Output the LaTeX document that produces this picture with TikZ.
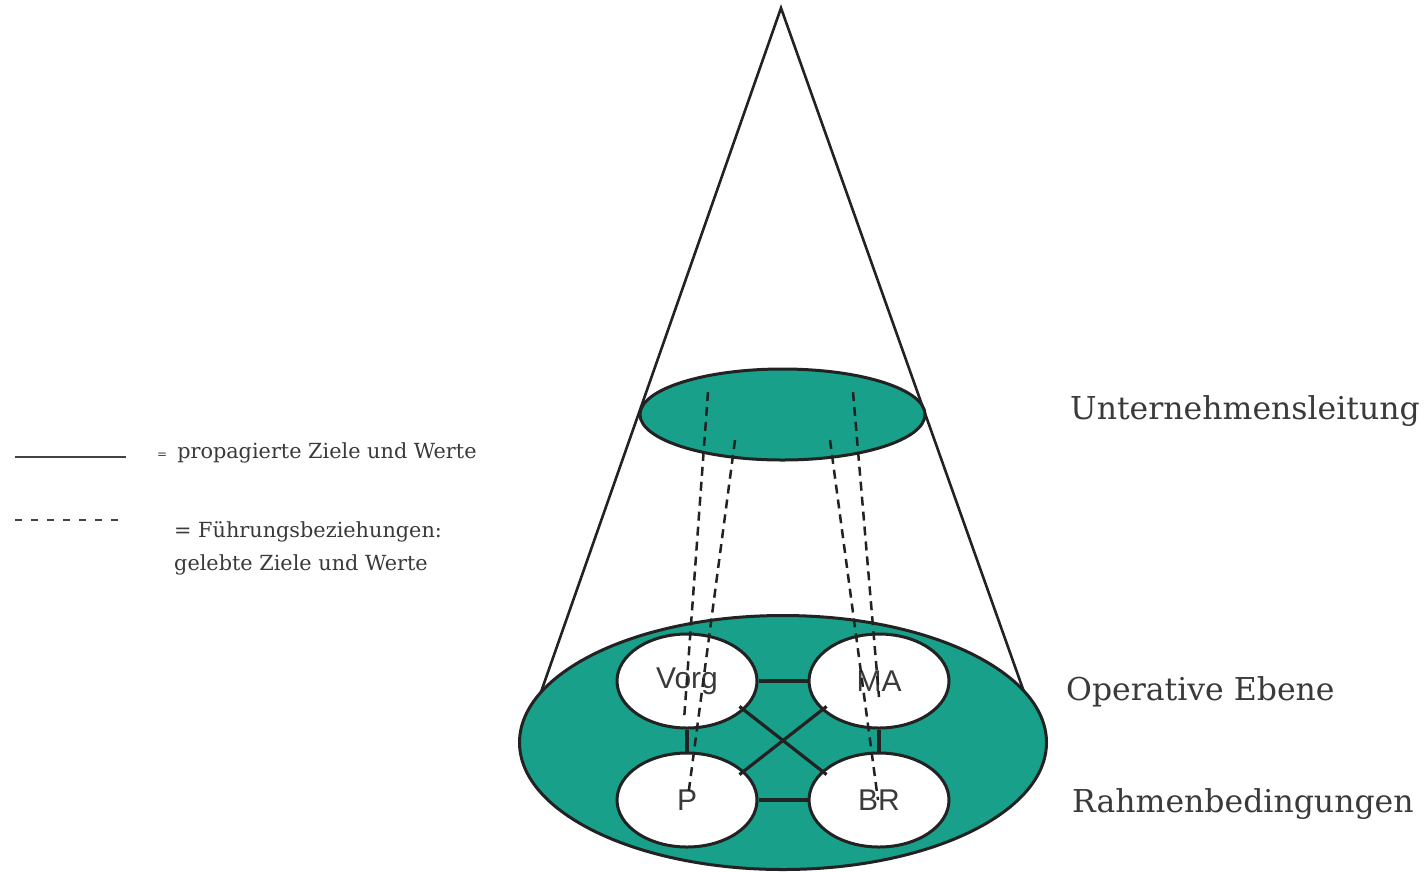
\documentclass[tikz,border=0pt]{standalone}
\usepackage{fontspec}
\setmainfont{DejaVu Serif}
\newfontfamily\labelfont{Liberation Sans}
\usetikzlibrary{shapes.geometric}
\definecolor{tealfill}{RGB}{24,160,138}
\definecolor{ink}{RGB}{34,34,34}
\definecolor{txt}{RGB}{58,58,58}
\begin{document}
\begin{tikzpicture}[x=1pt,y=-1pt,
  bigell/.style={ellipse, draw=ink, line width=3pt, fill=tealfill, inner sep=0pt},
  smallell/.style={ellipse, draw=ink, line width=3pt, fill=white, minimum width=140pt, minimum height=94pt, inner sep=0pt, font=\labelfont\fontsize{30}{30}\selectfont, text=txt},
  link/.style={draw=ink, line width=3.2pt},
  lead/.style={draw=ink, line width=2.5pt, dash pattern=on 9pt off 6pt},
  cone/.style={draw=ink, line width=2.6pt},
  level/.style={font=\fontsize{31.5}{32}\selectfont, text=txt, anchor=base west, inner sep=0pt},
  legendtext/.style={font=\fontsize{20.8}{22}\selectfont, text=txt, anchor=base west, inner sep=0pt},
  legendline/.style={draw=ink!85, line width=2.2pt}]
\useasboundingbox[fill=white] (0,0) rectangle (1426,871);

% cone
\coordinate (apex) at (781,8);
\coordinate (cl) at (541,692);
\coordinate (cr) at (1024,692);
\draw[cone] (cl) -- (apex) -- (cr);

% levels
\node[bigell, minimum width=285pt, minimum height=91pt] (top) at (782.5,414.5) {};
\node[bigell, minimum width=527pt, minimum height=254pt] (base) at (783,742.5) {};

% operative units
\node[smallell] (vorg) at (687,681) {Vorg};
\node[smallell] (ma)   at (879,681) {MA};
\node[smallell] (p)    at (687,800) {P};
\node[smallell] (br)   at (879,800) {BR};

% propagated goals (solid)
\draw[link] (vorg.east) -- (ma.west);
\draw[link] (p.east) -- (br.west);
\draw[link] (vorg.south) -- (p.north);
\draw[link] (ma.south) -- (br.north);
\draw[link, shorten <=-6pt, shorten >=-6pt] (vorg.-27) -- (br.153);
\draw[link, shorten <=-6pt, shorten >=-6pt] (ma.207) -- (p.27);

% leadership relations (dashed)
\coordinate (a1) at (708,392); \coordinate (a2) at (684,720);
\coordinate (b1) at (735,440); \coordinate (b2) at (688,797);
\coordinate (c1) at (830,440); \coordinate (c2) at (878,800);
\coordinate (d1) at (853,392); \coordinate (d2) at (879,697);
\draw[lead] (a1) -- (a2);
\draw[lead] (b1) -- (b2);
\draw[lead] (c1) -- (c2);
\draw[lead] (d1) -- (d2);

% level labels
\node[level] (lbltop) at (1070,419) {Unternehmensleitung};
\node[level] (lblop)  at (1066,700) {Operative Ebene};
\node[level] (lblrb)  at (1072,812) {Rahmenbedingungen};

% legend
\coordinate (ls1) at (15,457); \coordinate (ls2) at (126,457);
\draw[legendline] (ls1) -- (ls2);
\coordinate (ld1) at (15,520); \coordinate (ld2) at (126,520);
\draw[legendline, dash pattern=on 7pt off 9pt] (ld1) -- (ld2);
\node[legendtext] (leg1) at (157,458) {{\fontsize{12}{12}\selectfont=}\hspace{10pt}propagierte Ziele und Werte};
\node[legendtext] (leg2) at (174,537) {= Führungsbeziehungen:};
\node[legendtext] (leg3) at (174,570) {gelebte Ziele und Werte};
\end{tikzpicture}
\end{document}
